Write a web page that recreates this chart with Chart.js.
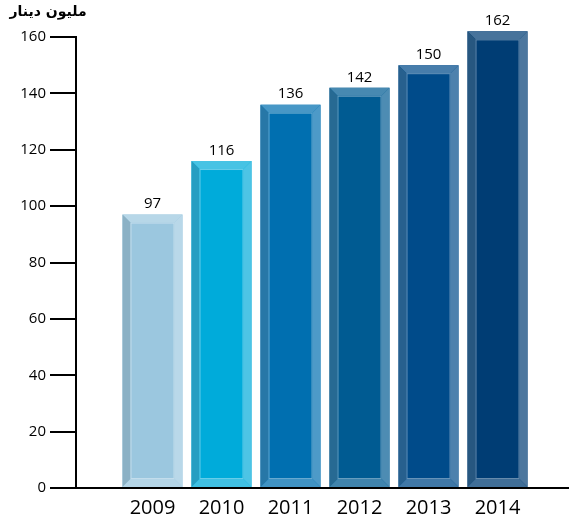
<!DOCTYPE html>
<html>
<head>
<meta charset="utf-8">
<script src="https://cdn.jsdelivr.net/npm/chart.js@4/dist/chart.umd.min.js"></script>
<style>
  html, body { margin: 0; padding: 0; background: #fff; }
  #wrap { width: 569px; height: 518px; }
</style>
</head>
<body>
<div id="wrap"><canvas id="grafica" width="569" height="518"></canvas></div>
<script>
// Datos
const anios = ['2009', '2010', '2011', '2012', '2013', '2014'];
const valores = [97, 116, 136, 142, 150, 162];
const ticksY = [0, 20, 40, 60, 80, 100, 120, 140, 160];
const tituloEje = 'مليون دينار';

// Colores de la cara de cada barra (de claro a oscuro)
const COLORES = ['#9BC7DF', '#00ABDA', '#006FB0', '#005B92', '#004B8A', '#003D74'];
const FUENTE = "'Open Sans', sans-serif";

function mezclar(hex, otro, t) {
  const a = parseInt(hex.slice(1), 16), b = parseInt(otro.slice(1), 16);
  const c = (s) => Math.round(((a >> s) & 255) * (1 - t) + ((b >> s) & 255) * t);
  return `rgb(${c(16)}, ${c(8)}, ${c(0)})`;
}

// Bisel de cada barra + etiqueta del valor encima
const biselPlugin = {
  id: 'bisel',
  afterDatasetsDraw(chart) {
    const ctx = chart.ctx;
    const meta = chart.getDatasetMeta(0);
    const b = 8;
    meta.data.forEach((bar, i) => {
      const { x, y, base, width } = bar.getProps(['x', 'y', 'base', 'width'], true);
      const l = x - width / 2, r = x + width / 2, t = y, bt = base;
      const col = COLORES[i];
      const poly = (pts, fill) => {
        ctx.beginPath();
        ctx.moveTo(pts[0][0], pts[0][1]);
        pts.slice(1).forEach(p => ctx.lineTo(p[0], p[1]));
        ctx.closePath();
        ctx.fillStyle = fill;
        ctx.fill();
      };
      ctx.save();
      poly([[l, t], [r, t], [r - b, t + b], [l + b, t + b]], mezclar(col, '#FFFFFF', 0.28));
      poly([[l, t], [l + b, t + b], [l + b, bt - b], [l, bt]], mezclar(col, '#6E8796', 0.35));
      poly([[r, t], [r, bt], [r - b, bt - b], [r - b, t + b]], mezclar(col, '#FFFFFF', 0.3));
      poly([[l, bt], [l + b, bt - b], [r - b, bt - b], [r, bt]], mezclar(col, '#FFFFFF', 0.25));
      ctx.strokeStyle = mezclar(col, '#FFFFFF', 0.4);
      ctx.lineWidth = 1;
      ctx.strokeRect(l + b + 0.5, t + b + 0.5, width - 2 * b - 1, bt - t - 2 * b - 1);
      ctx.restore();

      ctx.save();
      ctx.fillStyle = '#000';
      ctx.font = `15px ${FUENTE}`;
      ctx.textAlign = 'center';
      ctx.textBaseline = 'bottom';
      ctx.fillText(String(valores[i]), x, t - 3);
      ctx.restore();
    });

    // Título del eje Y (arriba a la izquierda)
    ctx.save();
    ctx.fillStyle = '#000';
    ctx.font = "bold 14px 'DejaVu Sans', sans-serif";
    ctx.direction = 'rtl';
    ctx.textAlign = 'center';
    ctx.textBaseline = 'middle';
    ctx.fillText(tituloEje, 48, 12);
    ctx.restore();
  }
};

new Chart(document.getElementById('grafica').getContext('2d'), {
  type: 'bar',
  data: {
    datasets: [{
      data: valores.map((v, i) => ({ x: i, y: v })),
      backgroundColor: COLORES,
      borderWidth: 0,
      barPercentage: 0.87,
      categoryPercentage: 1,
      clip: false
    }]
  },
  options: {
    responsive: false,
    animation: false,
    layout: { padding: { top: 37, left: 0, right: 0, bottom: 0 } },
    plugins: { legend: { display: false }, tooltip: { enabled: false } },
    scales: {
      x: {
        type: 'linear',
        offset: false,
        min: -1.1087,
        max: 6.036,
        afterBuildTicks: (s) => { s.ticks = anios.map((_, i) => ({ value: i })); },
        afterFit: (s) => { s.height = 30; },
        grid: { display: false, drawTicks: false },
        border: { color: '#000', width: 2 },
        ticks: {
          color: '#000',
          padding: 8,
          font: { family: FUENTE, size: 20 },
          callback: (v) => anios[v] ?? ''
        }
      },
      y: {
        min: 0,
        max: 160,
        afterBuildTicks: (s) => { s.ticks = ticksY.map(v => ({ value: v })); },
        afterFit: (s) => { s.width = 76; },
        grid: { drawOnChartArea: false, color: '#000', lineWidth: 2, tickLength: 26 },
        border: { color: '#000', width: 2 },
        ticks: {
          color: '#000',
          padding: 4,
          font: { family: FUENTE, size: 15 }
        }
      }
    }
  },
  plugins: [biselPlugin]
});
</script>
</body>
</html>
